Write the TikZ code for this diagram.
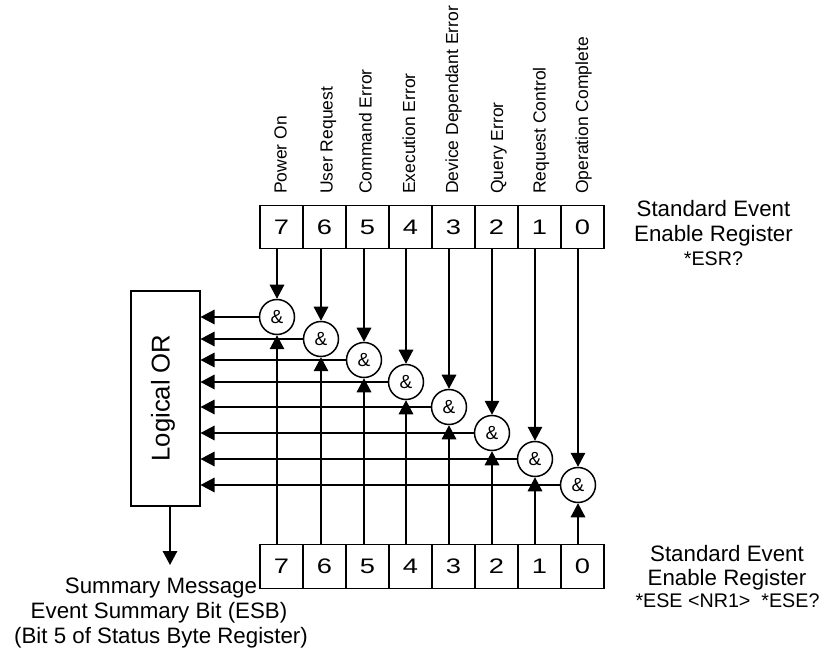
\documentclass[tikz,border=0pt]{standalone}
\usepackage{fontspec}
\setmainfont{Liberation Sans}
\usetikzlibrary{arrows.meta}
\tikzset{
  x=1pt,y=-1pt,
  wire/.style={line width=1.5pt,-{Triangle[length=14pt,width=14.5pt]}},
  regcell/.style={draw,line width=1.4pt,minimum width=43pt,minimum height=43.5pt,inner sep=0pt,font=\fontsize{21}{21}\selectfont},
  andgate/.style={draw,circle,fill=white,line width=1.5pt,minimum size=35pt,inner sep=0pt,font=\fontsize{19}{19}\selectfont},
  siglabel/.style={rotate=90,anchor=base west,inner sep=0pt,font=\fontsize{17.5}{17.5}\selectfont},
  bigline/.style={anchor=base,inner sep=0pt,font=\fontsize{22.3}{24}\selectfont},
  smallline/.style={anchor=base,inner sep=0pt,font=\fontsize{19.7}{24}\selectfont},
}
\newcommand{\wdig}[1]{\scalebox{1.3}[1]{#1}}
\begin{document}
\begin{tikzpicture}
\useasboundingbox (0,0) rectangle (825,652);
\foreach \n/\x in {7/281.5,6/324.5,5/367.5,4/410.5,3/453.5,2/496.5,1/539.5,0/582.5}{
  \node[regcell] (t\n) at (\x,227) {\wdig{\n}};
  \node[regcell] (b\n) at (\x,566.5) {\wdig{\n}};
}
\node[draw,line width=1.4pt,minimum width=69pt,minimum height=215pt,inner sep=0pt] (or) at (165.5,398.5) {};
\node[rotate=90,font=\fontsize{25.7}{25.7}\selectfont] (ortext) at (163,398) {Logical OR};
\foreach \n/\x/\y in {7/277/317,6/321/339,5/364/360,4/406/382,3/449/407,2/492/433,1/535/459,0/578/485}{
  \node[andgate] (g\n) at (\x,\y) {\&};
  \coordinate (tt\n) at (\x,249);
  \coordinate (bb\n) at (\x,545);
  \coordinate (ol\n) at (200.5,\y);
  \draw[wire] (tt\n) -- (g\n.north);
  \draw[wire] (bb\n) -- (g\n.south);
  \draw[wire] (g\n.west) -- (ol\n);
}
\foreach \n/\x/\t in {7/286.7/Power On,6/332.7/User Request,5/371.7/Command Error,4/415/Execution Error,3/458/Device Dependant Error,2/503/Query Error,1/545.7/Request Control,0/588/Operation Complete}{
  \node[siglabel] (lab\n) at (\x,194) {\t};
}
\coordinate (sm) at (170,565);
\draw[wire] (or.south -| sm) -- (sm);
\node[bigline] (sum1) at (161,593) {Summary Message};
\node[bigline] (sum2) at (159,618) {Event Summary Bit (ESB)};
\node[bigline] (sum3) at (161,643) {(Bit 5 of Status Byte Register)};
\node[bigline] (esr1) at (713.5,217) {Standard Event};
\node[bigline] (esr2) at (713.5,242) {Enable Register};
\node[smallline] (esr3) at (713.5,266) {*ESR?};
\node[bigline] (ese1) at (727,561) {Standard Event};
\node[bigline] (ese2) at (727,585) {Enable Register};
\node[smallline] (ese3) at (727.5,607) {*ESE <NR1>\ \ *ESE?};
\end{tikzpicture}
\end{document}
